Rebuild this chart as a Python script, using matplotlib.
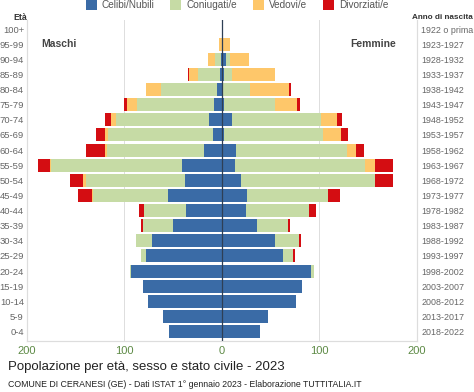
import matplotlib.pyplot as plt
import numpy as np
from matplotlib.patches import Patch

plt.rcParams["font.family"] = ["Liberation Sans", "DejaVu Sans"]

ages = ["0-4", "5-9", "10-14", "15-19", "20-24", "25-29", "30-34", "35-39",
        "40-44", "45-49", "50-54", "55-59", "60-64", "65-69", "70-74", "75-79",
        "80-84", "85-89", "90-94", "95-99", "100+"]
years = ["2018-2022", "2013-2017", "2008-2012", "2003-2007", "1998-2002",
         "1993-1997", "1988-1992", "1983-1987", "1978-1982", "1973-1977",
         "1968-1972", "1963-1967", "1958-1962", "1953-1957", "1948-1952",
         "1943-1947", "1938-1942", "1933-1937", "1928-1932", "1923-1927",
         "1922 o prima"]

# maschi
m_celibi = [54, 60, 76, 81, 93, 78, 72, 50, 37, 55, 38, 41, 18, 9, 13, 8, 5, 2, 1, 0, 0]
m_coniug = [0, 0, 0, 0, 1, 5, 16, 31, 43, 77, 101, 134, 100, 108, 95, 79, 57, 22, 6, 0, 0]
m_vedovi = [0, 0, 0, 0, 0, 0, 0, 0, 0, 1, 3, 1, 2, 3, 6, 10, 16, 10, 7, 3, 0]
m_divorz = [0, 0, 0, 0, 0, 0, 0, 2, 5, 14, 14, 12, 19, 9, 6, 3, 0, 1, 0, 0, 0]

# femmine
f_nubili = [39, 47, 76, 82, 91, 63, 55, 36, 25, 26, 20, 13, 15, 2, 10, 2, 1, 2, 4, 0, 0]
f_coniug = [0, 0, 0, 0, 3, 10, 24, 32, 64, 83, 137, 134, 113, 102, 92, 52, 28, 8, 4, 0, 0]
f_vedove = [0, 0, 0, 0, 0, 0, 0, 0, 0, 0, 0, 10, 10, 18, 16, 23, 40, 44, 20, 8, 0]
f_divorz = [0, 0, 0, 0, 0, 2, 2, 2, 7, 12, 18, 18, 8, 7, 5, 3, 2, 0, 0, 0, 0]

colors = ["#3a6ba6", "#c6dba5", "#fec76a", "#d40d12"]
labels = ["Celibi/Nubili", "Coniugati/e", "Vedovi/e", "Divorziati/e"]

fig = plt.figure(figsize=(4.74, 3.92), dpi=100)
ax = fig.add_axes([0.0563, 0.131, 0.8234, 0.818])

y = np.arange(len(ages))
h = 0.86

left = np.zeros(len(ages))
for vals, c in zip([m_celibi, m_coniug, m_vedovi, m_divorz], colors):
    v = np.array(vals)
    ax.barh(y, -v, left=-left, height=h, color=c, linewidth=0)
    left += v

left = np.zeros(len(ages))
for vals, c in zip([f_nubili, f_coniug, f_vedove, f_divorz], colors):
    v = np.array(vals)
    ax.barh(y, v, left=left, height=h, color=c, linewidth=0)
    left += v

ax.axvline(0, color="#2e3f55", lw=0.9, zorder=5)
for gx in [-100, 100]:
    ax.axvline(gx, color="#dddddd", lw=0.7, zorder=0)

ax.set_xlim(-200, 200)
ax.set_ylim(-0.6, 20.6)
ax.set_xticks([-200, -100, 0, 100, 200])
ax.set_xticklabels(["200", "100", "0", "100", "200"], color="#5d8a45", fontsize=8)
ax.set_yticks(y)
ax.set_yticklabels(ages, color="#666666", fontsize=6.8)
ax.tick_params(length=0, pad=2)
ax.tick_params(axis="x", pad=4)

ax2 = ax.twinx()
ax2.set_ylim(ax.get_ylim())
ax2.set_yticks(y)
ax2.set_yticklabels(years, color="#666666", fontsize=6.4)
ax2.tick_params(length=0, pad=3)

for a in (ax, ax2):
    a.spines["top"].set_visible(False)
    a.spines["left"].set_color("#dddddd")
    a.spines["right"].set_color("#dddddd")
    a.spines["bottom"].set_color("#dddddd")

ax.text(-185, 19.0, "Maschi", fontsize=7.5, fontweight="bold", color="#444444", va="center")
ax.text(178, 19.0, "Femmine", fontsize=7.5, fontweight="bold", color="#444444",
        va="center", ha="right")

fig.text(0.028, 0.955, "Età", fontsize=6.3, fontweight="bold", color="#333333", va="center")
fig.text(0.997, 0.955, "Anno di nascita", fontsize=5.9, fontweight="bold", color="#333333",
         va="center", ha="right")

handles = [Patch(facecolor=c, edgecolor="none") for c in colors]
fig.legend(handles, labels, loc="center", bbox_to_anchor=(0.5, 0.987), ncol=4,
           frameon=False, fontsize=7.2, handlelength=1.1, handleheight=1.1,
           columnspacing=1.6, handletextpad=0.5, labelcolor="#555555")

fig.text(0.017, 0.063, "Popolazione per età, sesso e stato civile - 2023",
         fontsize=9.5, color="#222222", va="center")
fig.text(0.017, 0.02,
         "COMUNE DI CERANESI (GE) - Dati ISTAT 1° gennaio 2023 - Elaborazione TUTTITALIA.IT",
         fontsize=6.3, color="#222222", va="center")

fig.savefig("out.png", dpi=100)
